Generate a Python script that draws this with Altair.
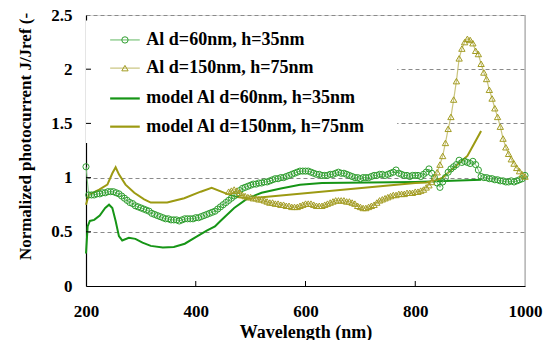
import altair as alt
import pandas as pd

# ---------------- data ----------------
meas60_x = list(range(200, 1001, 5))
meas60_y = [1.10, 0.84, 0.84, 0.84, 0.85, 0.85, 0.86, 0.86, 0.87, 0.87,
            0.87, 0.86, 0.85, 0.83, 0.81, 0.79, 0.77, 0.76, 0.74, 0.73,
            0.72, 0.71, 0.70, 0.69, 0.67, 0.66, 0.65, 0.64, 0.63, 0.62,
            0.62, 0.61, 0.61, 0.61, 0.60, 0.61, 0.62, 0.62, 0.62, 0.62,
            0.63, 0.63, 0.64, 0.65, 0.66, 0.67, 0.68, 0.69, 0.71, 0.73,
            0.75, 0.77, 0.79, 0.81, 0.83, 0.85, 0.88, 0.90, 0.91, 0.92,
            0.93, 0.94, 0.94, 0.95, 0.95, 0.96, 0.96, 0.97, 0.98, 0.99,
            0.99, 1.00, 1.00, 1.01, 1.02, 1.03, 1.04, 1.05, 1.06, 1.06,
            1.06, 1.06, 1.05, 1.04, 1.03, 1.03, 1.02, 1.02, 1.02, 1.03,
            1.03, 1.04, 1.05, 1.04, 1.04, 1.03, 1.02, 1.01, 1.00, 1.00,
            0.99, 1.00, 1.00, 1.00, 1.01, 1.02, 1.02, 1.03, 1.03, 1.02,
            1.03, 1.04, 1.05, 1.07, 1.04, 1.03, 1.02, 1.02, 1.01, 1.02,
            1.02, 1.02, 1.01, 1.03, 1.05, 1.08, 1.04, 1.00, 0.95, 0.91,
            0.96, 1.00, 1.05, 1.08, 1.10, 1.12, 1.16, 1.14, 1.15, 1.14,
            1.13, 1.15, 1.12, 1.07, 1.01, 1.00, 1.00, 0.99, 0.99, 0.98,
            0.98, 0.97, 0.97, 0.96, 0.96, 0.97, 0.96, 0.97, 0.98, 0.99,
            1.02]

meas150_x = list(range(460, 1001, 5))
meas150_y = [0.87, 0.88, 0.89, 0.88, 0.86, 0.84, 0.83, 0.82, 0.82, 0.81,
             0.81, 0.80, 0.80, 0.79, 0.78, 0.77, 0.77, 0.76, 0.76, 0.75,
             0.75, 0.74, 0.74, 0.73, 0.73, 0.73, 0.74, 0.75, 0.76, 0.76,
             0.76, 0.75, 0.74, 0.74, 0.74, 0.75, 0.76, 0.77, 0.78, 0.79,
             0.79, 0.79, 0.79, 0.78, 0.78, 0.77, 0.76, 0.74, 0.73, 0.72,
             0.72, 0.73, 0.74, 0.75, 0.77, 0.79, 0.80, 0.81, 0.82, 0.83,
             0.84, 0.84, 0.85, 0.85, 0.85, 0.86, 0.86, 0.86, 0.87, 0.87,
             0.88, 0.89, 0.91, 0.93, 0.96, 1.00, 1.05, 1.12, 1.20, 1.32,
             1.45, 1.56, 1.72, 1.89, 2.10, 2.19, 2.25, 2.28, 2.27, 2.24,
             2.17, 2.14, 2.05, 1.97, 1.91, 1.81, 1.73, 1.64, 1.56, 1.47,
             1.36, 1.28, 1.22, 1.17, 1.13, 1.09, 1.06, 1.03, 1.01]

model60_x = [200, 203, 207, 215, 225, 235, 242, 248, 254, 260, 266, 278,
             290, 303, 318, 340, 360, 380, 400, 420, 435, 445, 470, 495,
             520, 555, 590, 630, 800, 920]
model60_y = [0.30, 0.55, 0.60, 0.61, 0.65, 0.72, 0.75, 0.72, 0.60, 0.46,
             0.42, 0.445, 0.435, 0.40, 0.37, 0.355, 0.36, 0.39, 0.45, 0.51,
             0.55, 0.60, 0.72, 0.81, 0.86, 0.90, 0.935, 0.95, 0.96, 0.98]

model150_x = [200, 205, 224, 239, 248, 254, 260, 272, 288, 306, 318, 348,
              379, 409, 429, 457, 475, 500, 800, 820, 835, 850, 870, 895,
              907, 920]
model150_y = [0.75, 0.84, 0.89, 0.935, 1.04, 1.095, 1.03, 0.935, 0.86,
              0.80, 0.77, 0.77, 0.81, 0.87, 0.905, 0.85, 0.82, 0.81, 0.95,
              0.955, 0.97, 1.00, 1.09, 1.20, 1.31, 1.43]

x_ticks = [200, 400, 600, 800, 1000]
y_ticks = [0, 0.5, 1, 1.5, 2, 2.5]

legend_labels = ["Al d=60nm, h=35nm", "Al d=150nm, h=75nm",
                 "model Al d=60nm, h=35nm", "model Al d=150nm, h=75nm"]

# ---------------- styling / layout constants ----------------
FONT = "Liberation Serif"
C_M60_LINE, C_M60_PT = "#7cc47c", "#2f9e2f"
C_M150_LINE, C_M150_PT = "#c9c47e", "#a39c22"
C_MOD60, C_MOD150 = "#169516", "#9c9a12"

LEG_ROWS = [2.27, 2.01, 1.73, 1.47]
LEG_X0, LEG_X1, LEG_XM, LEG_XT = 244, 298, 271, 310
LEG_BOX = (200, 767, 1.32, 2.45)

W, H = 439, 271

xs = alt.Scale(domain=[200, 1000], nice=False, zero=False)
ys = alt.Scale(domain=[0, 2.5], nice=False)


def frame(xv, yv):
    return pd.DataFrame({"x": xv, "y": yv})


X = alt.X("x:Q", scale=xs, title="Wavelength (nm)",
          axis=alt.Axis(values=x_ticks, format="d", grid=False, ticks=False,
                        labelFlush=False, labelOverlap=False,
                        labelPadding=17, labelFontSize=17, labelFont=FONT,
                        labelFontWeight="bold", labelColor="black",
                        domainColor="black", domainWidth=1.2,
                        titleFont=FONT, titleFontSize=18, titleFontWeight="bold",
                        titleColor="black", titleBaseline="alphabetic", titleY=51))
Y = alt.Y("y:Q", scale=ys, title="Normalized photocurrent J/Jref (-",
          axis=alt.Axis(values=y_ticks, format="~g", grid=True,
                        labelFlush=False, labelOverlap=False,
                        gridDash=[4, 3], gridColor="#8a8a8a", gridWidth=1,
                        ticks=False, labelPadding=14, labelFontSize=17,
                        labelFont=FONT, labelFontWeight="bold",
                        labelColor="black", domainColor="black",
                        domainWidth=1.2, titleFont=FONT, titleFontSize=17,
                        titleFontWeight="bold", titleColor="black",
                        titleAngle=270, titleBaseline="middle",
                        titleAlign="center", titleX=-61, titleY=121))

base_axes = alt.Chart(frame(meas60_x, meas60_y)).mark_point(opacity=0).encode(x=X, y=Y)

box = alt.Chart(pd.DataFrame({"a": [LEG_BOX[0]], "b": [LEG_BOX[1]],
                              "c": [LEG_BOX[2]], "d": [LEG_BOX[3]]})).mark_rect(
    fill="white").encode(
    x=alt.X("a:Q", scale=xs), x2="b:Q", y=alt.Y("c:Q", scale=ys), y2="d:Q")

right_border = alt.Chart(pd.DataFrame({"x": [1000]})).mark_rule(
    color="#9a9a9a", strokeWidth=1).encode(
    x=alt.X("x:Q", scale=xs), y=alt.datum(0), y2=alt.datum(2.5))

line_m60 = alt.Chart(frame(model60_x, model60_y)).mark_line(
    color=C_MOD60, strokeWidth=2).encode(x=alt.X("x:Q", scale=xs), y=alt.Y("y:Q", scale=ys))
line_m150 = alt.Chart(frame(model150_x, model150_y)).mark_line(
    color=C_MOD150, strokeWidth=2).encode(x=alt.X("x:Q", scale=xs), y=alt.Y("y:Q", scale=ys))

meas60_line = alt.Chart(frame(meas60_x, meas60_y)).mark_line(
    color=C_M60_LINE, strokeWidth=1).encode(x=alt.X("x:Q", scale=xs), y=alt.Y("y:Q", scale=ys))
meas60_pts = alt.Chart(frame(meas60_x, meas60_y)).mark_point(
    shape="circle", size=38, filled=False, color=C_M60_PT, strokeWidth=1,
    opacity=1).encode(x=alt.X("x:Q", scale=xs), y=alt.Y("y:Q", scale=ys))

meas150_line = alt.Chart(frame(meas150_x, meas150_y)).mark_line(
    color=C_M150_LINE, strokeWidth=1.2).encode(x=alt.X("x:Q", scale=xs), y=alt.Y("y:Q", scale=ys))
meas150_pts = alt.Chart(frame(meas150_x, meas150_y)).mark_point(
    shape="triangle-up", size=40, filled=False, color=C_M150_PT, strokeWidth=1,
    opacity=1).encode(x=alt.X("x:Q", scale=xs), y=alt.Y("y:Q", scale=ys))

# inward tick marks
yt = alt.Chart(pd.DataFrame({"y": y_ticks[1:-1]})).mark_rule(
    color="black", strokeWidth=1).encode(
    y=alt.Y("y:Q", scale=ys), x=alt.value(0), x2=alt.value(5))
xt = alt.Chart(pd.DataFrame({"x": x_ticks[1:-1]})).mark_rule(
    color="black", strokeWidth=1).encode(
    x=alt.X("x:Q", scale=xs), y=alt.value(H), y2=alt.value(H - 5))

# legend
leg_layers = []
leg_styles = [(C_M60_LINE, 1.2, "circle", C_M60_PT),
              (C_M150_LINE, 1.2, "triangle-up", C_M150_PT),
              (C_MOD60, 2.2, None, None),
              (C_MOD150, 2.2, None, None)]
for lab, ly, (lc, lw, shp, pc) in zip(legend_labels, LEG_ROWS, leg_styles):
    d = pd.DataFrame({"x0": [LEG_X0], "x1": [LEG_X1], "xm": [LEG_XM],
                      "xt": [LEG_XT], "y": [ly], "t": [lab]})
    c = alt.Chart(d)
    leg_layers.append(c.mark_rule(color=lc, strokeWidth=lw).encode(
        x=alt.X("x0:Q", scale=xs), x2="x1:Q", y=alt.Y("y:Q", scale=ys)))
    if shp:
        leg_layers.append(c.mark_point(shape=shp, size=40, filled=False,
                                       color=pc, strokeWidth=1, opacity=1).encode(
            x=alt.X("xm:Q", scale=xs), y=alt.Y("y:Q", scale=ys)))
    leg_layers.append(c.mark_text(align="left", baseline="middle", font=FONT,
                                  fontSize=18, fontWeight="bold", color="black").encode(
        x=alt.X("xt:Q", scale=xs), y=alt.Y("y:Q", scale=ys), text="t:N"))

chart = alt.layer(
    base_axes, box, right_border,
    line_m60, line_m150,
    meas60_line, meas60_pts,
    meas150_line, meas150_pts,
    yt, xt, *leg_layers
).properties(
    width=W, height=H,
    padding={"left": 86, "top": 15, "right": 23, "bottom": 54},
    autosize=alt.AutoSizeParams(type="none"),
).configure_view(stroke=None).configure(background="white")

chart.save("out.html", embed_options={"renderer": "svg", "actions": False})
